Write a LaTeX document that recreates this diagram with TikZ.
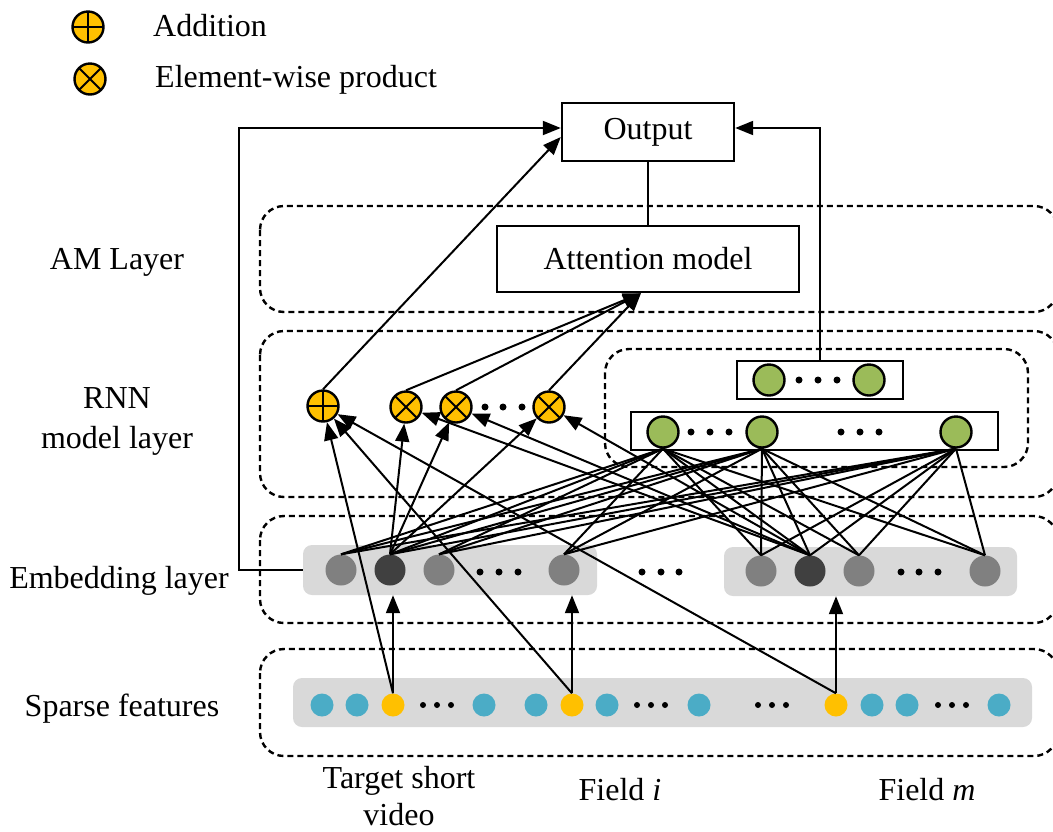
\documentclass[tikz,border=0pt]{standalone}
\usepackage{fontspec}
\setmainfont{Liberation Serif}
\usetikzlibrary{arrows.meta,calc}

\definecolor{gold}{HTML}{FFC000}
\definecolor{leaf}{HTML}{9BBB59}
\definecolor{sky}{HTML}{4BACC6}
\definecolor{panelgrey}{HTML}{D9D9D9}
\definecolor{embgrey}{HTML}{808080}
\definecolor{embdark}{HTML}{404040}

\tikzset{
  layerbox/.style={draw, dash pattern=on 6pt off 4pt, line width=2.4pt, rounded corners=24pt},
  panelbox/.style={fill=panelgrey, rounded corners=9pt, inner sep=0pt},
  plainbox/.style={draw, line width=2.4pt, fill=white, inner sep=0pt},
  txtlbl/.style={font=\fontsize{32}{36}\selectfont, anchor=base, inner sep=0pt},
  conn/.style={line width=2pt},
  arr/.style={conn, -{Triangle[length=18pt,width=14pt]}},
  addop/.style={circle, draw, line width=2.4pt, fill=gold, minimum size=31pt, inner sep=0pt,
    path picture={\draw[line width=2pt]
      (path picture bounding box.north) -- (path picture bounding box.south)
      (path picture bounding box.west) -- (path picture bounding box.east);}},
  mulop/.style={circle, draw, line width=2.4pt, fill=gold, minimum size=31pt, inner sep=0pt,
    path picture={\draw[line width=2pt]
      ([shift={(45:16pt)}]path picture bounding box.center) -- ([shift={(225:16pt)}]path picture bounding box.center)
      ([shift={(135:16pt)}]path picture bounding box.center) -- ([shift={(315:16pt)}]path picture bounding box.center);}},
  rnnunit/.style={circle, draw, line width=2.4pt, fill=leaf, minimum size=31pt, inner sep=0pt},
  embunit/.style={circle, fill=embgrey, minimum size=31pt, inner sep=0pt},
  embkey/.style={circle, fill=embdark, minimum size=31pt, inner sep=0pt},
  sparseunit/.style={circle, fill=sky, minimum size=23pt, inner sep=0pt},
  sparsekey/.style={circle, fill=gold, minimum size=23pt, inner sep=0pt},
  dotmark/.style={circle, fill=black, minimum size=7pt, inner sep=0pt},
  smalldot/.style={circle, fill=black, minimum size=6pt, inner sep=0pt},
}

\begin{document}
\begin{tikzpicture}[x=1pt, y=-1pt]
\useasboundingbox (0,0) rectangle (1053,831);

% legend
\node[addop] (legadd) at (88,27) {};
\node[txtlbl, anchor=base west] (legaddtxt) at (153,36) {Addition};
\node[mulop] (legmul) at (90,79) {};
\node[txtlbl, anchor=base west] (legmultxt) at (155,87) {Element-wise product};

% layer frames
\draw[layerbox] (260,206) rectangle (1058,312);
\draw[layerbox] (260,331) rectangle (1058,497);
\draw[layerbox] (605,349) rectangle (1028,467);
\draw[layerbox] (260,516) rectangle (1058,623);
\draw[layerbox] (260,649) rectangle (1058,756);

% layer names
\node[txtlbl] (amname) at (117,269) {AM Layer};
\node[txtlbl] (rnnname1) at (117,408) {RNN};
\node[txtlbl] (rnnname2) at (117,448) {model layer};
\node[txtlbl] (embname) at (119,588) {Embedding layer};
\node[txtlbl] (spname) at (122,716) {Sparse features};

% field captions
\node[txtlbl] (cap1a) at (399,788) {Target short};
\node[txtlbl] (cap1b) at (399,825) {video};
\node[txtlbl] (cap2) at (620,800) {Field \textit{i}};
\node[txtlbl] (cap3) at (927,800) {Field \textit{m}};

% grey panels
\node[panelbox, minimum width=294pt, minimum height=50pt] (pan1) at (450,570) {};
\node[panelbox, minimum width=293pt, minimum height=49pt] (pan2) at (870.5,571.5) {};
\node[panelbox, minimum width=739pt, minimum height=49pt] (pan3) at (662.5,702.5) {};

% boxes
\node[plainbox, minimum width=172pt, minimum height=58pt, font=\fontsize{32}{36}\selectfont] (out) at (648,132) {Output};
\node[plainbox, minimum width=302pt, minimum height=66pt, font=\fontsize{32}{36}\selectfont] (att) at (648,259) {Attention model};
\node[plainbox, minimum width=166pt, minimum height=38pt] (gtop) at (820,380) {};
\node[plainbox, minimum width=367pt, minimum height=38pt] (gbot) at (814.5,431) {};

% embedding units
\node[embunit] (e1) at (341,570) {};
\node[embkey]  (e2) at (390,570) {};
\node[embunit] (e3) at (439,570) {};
\node[embunit] (e4) at (564,570) {};
\node[embunit] (f1) at (761,571) {};
\node[embkey]  (f2) at (810,571) {};
\node[embunit] (f3) at (859,571) {};
\node[embunit] (f4) at (985,571) {};

% recurrent units
\node[rnnunit] (h1) at (769,380) {};
\node[rnnunit] (h2) at (869,380) {};
\node[rnnunit] (g1) at (663,432) {};
\node[rnnunit] (g2) at (762,432) {};
\node[rnnunit] (g3) at (956,432) {};

% operators
\node[addop] (add) at (323,406) {};
\node[mulop] (p1) at (406,407) {};
\node[mulop] (p2) at (456,407) {};
\node[mulop] (p3) at (549,407) {};

% sparse features
\node[sparseunit] (s1) at (322,705) {};
\node[sparseunit] (s2) at (357,705) {};
\node[sparsekey]  (sy1) at (393,705) {};
\node[sparseunit] (s3) at (484,705) {};
\node[sparseunit] (s4) at (536,705) {};
\node[sparsekey]  (sy2) at (572,705) {};
\node[sparseunit] (s5) at (607,705) {};
\node[sparseunit] (s6) at (699,705) {};
\node[sparsekey]  (sy3) at (836,705) {};
\node[sparseunit] (s7) at (872,705) {};
\node[sparseunit] (s8) at (907,705) {};
\node[sparseunit] (s9) at (999,705) {};

% ellipses
\foreach \x [count=\k] in {423,437,451,637,651,665,758,772,786,938,952,966}
  \node[smalldot] (sd\k) at (\x,705) {};
\foreach \x [count=\k] in {480,499,518,642,661,679,901,919,938}
  \node[dotmark] (ed\k) at (\x,572) {};
\foreach \x [count=\k] in {691,710,729,841,860,879}
  \node[dotmark] (gd\k) at (\x,432) {};
\foreach \x [count=\k] in {799,818,837}
  \node[dotmark] (hd\k) at (\x,380) {};
\foreach \x [count=\k] in {485,503,522}
  \node[dotmark] (pd\k) at (\x,407) {};

% embeddings feed every recurrent unit
\foreach \e in {e1,e2,e3,e4,f1,f2,f3,f4}
  \foreach \g in {g1,g2,g3}
    \draw[conn] (\e.north) -- (\g.south);

% sparse ids to embeddings
\draw[arr] (sy1.north) -- (sy1.north |- pan1.south);
\draw[arr] (sy2.north) -- (sy2.north |- pan1.south);
\draw[arr] (sy3.north) -- (sy3.north |- pan2.south);

% sparse ids to the sum
\draw[arr] (sy1.north) -- (add);
\draw[arr] (sy2.north) -- (add);
\draw[arr] (sy3.north) -- (add);

% key embeddings to the products
\foreach \p in {p1,p2,p3} {
  \draw[arr] (e2.north) -- (\p);
  \draw[arr] (f2.north) -- (\p);
}

% products to attention
\foreach \p in {p1,p2,p3}
  \draw[arr] (\p.north) -- ([xshift=-7pt]att.south);

% attention to output
\draw[conn] (att.north) -- (out.south);

% sum to output
\draw[arr] (add.north) -- ([yshift=-5pt]out.west);

% embedding shortcut to output
\draw[arr] (pan1.west) -- ++(-64,0) |- ([yshift=4pt]out.west);

% recurrent state to output
\draw[arr] (gtop.north) |- ([yshift=4pt]out.east);

\end{tikzpicture}
\end{document}
